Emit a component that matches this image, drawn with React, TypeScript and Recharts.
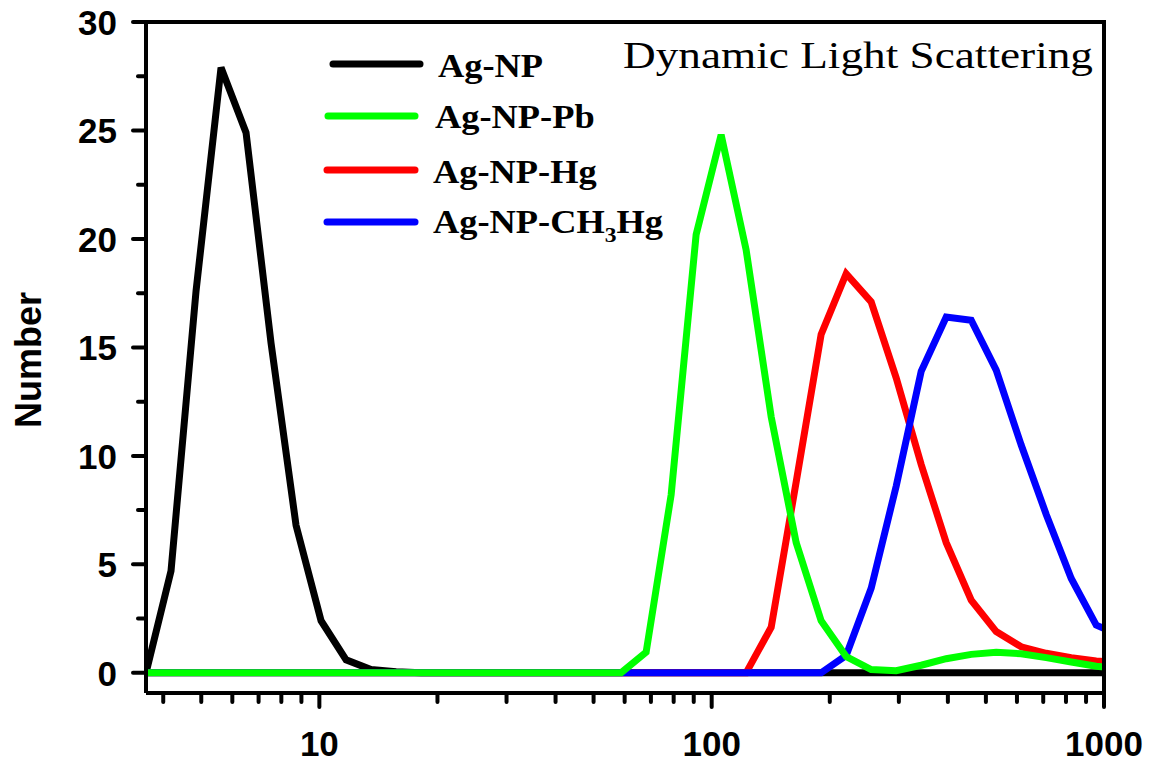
import React from 'react';
import { LineChart, Line, XAxis, YAxis } from 'recharts';

// size bins (nm) of the DLS instrument
const sizes = [
  3.615, 4.187, 4.849, 5.615, 6.503, 7.531, 8.721, 10.1, 11.7, 13.54,
  15.69, 18.17, 21.04, 24.36, 28.21, 32.67, 37.84, 43.82, 50.75, 58.77,
  68.06, 78.82, 91.28, 105.7, 122.4, 141.8, 164.2, 190.1, 220.2, 255.0,
  295.3, 342.0, 396.1, 458.7, 531.2, 615.1, 712.4, 825.0, 955.4, 1106,
];

// number distribution (%) per bin
const agNp = [
  0, 4.7, 17.6, 27.9, 24.9, 15.2, 6.8, 2.4, 0.6, 0.15,
  0.05, 0, 0, 0, 0, 0, 0, 0, 0, 0,
  0, 0, 0, 0, 0, 0, 0, 0, 0, 0,
  0, 0, 0, 0, 0, 0, 0, 0, 0, 0,
];
const agNpPb = [
  0, 0, 0, 0, 0, 0, 0, 0, 0, 0,
  0, 0, 0, 0, 0, 0, 0, 0, 0, 0,
  0.95, 8.2, 20.2, 24.8, 19.5, 11.8, 6.0, 2.4, 0.75, 0.15,
  0.1, 0.35, 0.65, 0.85, 0.95, 0.88, 0.7, 0.5, 0.3, 0.2,
];
const agNpHg = [
  0, 0, 0, 0, 0, 0, 0, 0, 0, 0,
  0, 0, 0, 0, 0, 0, 0, 0, 0, 0,
  0, 0, 0, 0, 0, 2.1, 8.8, 15.6, 18.4, 17.1,
  13.6, 9.6, 6.0, 3.35, 1.9, 1.2, 0.9, 0.7, 0.55, 0.45,
];
const agNpCh3Hg = [
  0, 0, 0, 0, 0, 0, 0, 0, 0, 0,
  0, 0, 0, 0, 0, 0, 0, 0, 0, 0,
  0, 0, 0, 0, 0, 0, 0, 0, 0.8, 3.9,
  8.6, 13.9, 16.4, 16.25, 13.95, 10.5, 7.3, 4.35, 2.2, 1.7,
];

const xTicks = [4, 5, 6, 7, 8, 9, 10, 20, 30, 40, 50, 60, 70, 80, 90, 100, 200, 300, 400, 500, 600, 700, 800, 900, 1000];
const xLabels = [10, 100, 1000];
const yTicks = [0, 2.5, 5, 7.5, 10, 12.5, 15, 17.5, 20, 22.5, 25, 27.5, 30];

const data = sizes.map((size, i) => ({
  size,
  agNp: agNp[i],
  agNpPb: agNpPb[i],
  agNpHg: agNpHg[i],
  agNpCh3Hg: agNpCh3Hg[i],
}));

// plot box in page pixels
const PLOT = { left: 146, right: 1104, top: 22, bottom: 693 };

const tickFont = { fontFamily: 'Liberation Sans, Arial, sans-serif', fontWeight: 700, fontSize: 35 };

const XTick = (props: any) => {
  const { x, y, payload } = props;
  const major = xLabels.includes(payload.value);
  return (
    <g>
      <line x1={x} x2={x} y1={y} y2={y + (major ? 14 : 9)} stroke="#000" strokeWidth={4} strokeLinecap="round" />
      {major && (
        <text x={x} y={y + 63} textAnchor="middle" fill="#000" style={tickFont}>
          {payload.value}
        </text>
      )}
    </g>
  );
};

const YTick = (props: any) => {
  const { x, y, payload } = props;
  const major = payload.value % 5 === 0;
  return (
    <g>
      <line x1={x - (major ? 13 : 8)} x2={x} y1={y} y2={y} stroke="#000" strokeWidth={4} strokeLinecap="round" />
      {major && (
        <text x={x - 29} y={y + 13} textAnchor="end" fill="#000" style={tickFont}>
          {payload.value}
        </text>
      )}
    </g>
  );
};

const legendItems = [
  { label: 'Ag-NP', color: '#000000', x1: 333, x2: 420, ly: 64, tx: 438, ty: 77 },
  { label: 'Ag-NP-Pb', color: '#00ff00', x1: 328, x2: 415, ly: 116, tx: 435, ty: 128 },
  { label: 'Ag-NP-Hg', color: '#ff0000', x1: 327, x2: 415, ly: 170, tx: 433, ty: 183 },
  { label: 'Ag-NP-CH3Hg', color: '#0000ff', x1: 327, x2: 415, ly: 222, tx: 433, ty: 233 },
];

const serif = 'Liberation Serif, Times New Roman, serif';

// top and right edges of the plot box
const Frame = () => (
  <div
    style={{
      position: 'absolute',
      left: PLOT.left - 2,
      top: PLOT.top - 2,
      width: PLOT.right - PLOT.left,
      height: PLOT.bottom - PLOT.top,
      borderTop: '4px solid #000',
      borderRight: '4px solid #000',
      zIndex: 3,
      pointerEvents: 'none',
    }}
  />
);

const Overlay = () => (
  <svg
    width={1163}
    height={765}
    viewBox="0 0 1163 765"
    style={{ position: 'absolute', left: 0, top: 0, zIndex: 2, pointerEvents: 'none' }}
  >
    <text x={623} y={68} fontFamily={serif} fontSize={38} textLength={470} lengthAdjust="spacingAndGlyphs" fill="#000">
      Dynamic Light Scattering
    </text>
    {legendItems.map((item) => (
      <g key={item.label}>
        <line x1={item.x1} x2={item.x2} y1={item.ly} y2={item.ly} stroke={item.color} strokeWidth={7} strokeLinecap="round" />
        <g transform={`translate(${item.tx},${item.ty}) scale(1.07,1)`}>
          <text x={0} y={0} fontFamily={serif} fontWeight={700} fontSize={34} fill="#000">
            {item.label === 'Ag-NP-CH3Hg' ? (
              <>
                Ag-NP-CH
                <tspan fontSize={22} dy={9}>3</tspan>
                <tspan dy={-9}>Hg</tspan>
              </>
            ) : (
              item.label
            )}
          </text>
        </g>
      </g>
    ))}
    <text
      transform="translate(41,360) rotate(-90)"
      textAnchor="middle"
      fontFamily="Liberation Sans, Arial, sans-serif"
      fontWeight={700}
      fontSize={36}
      fill="#000"
    >
      Number
    </text>
  </svg>
);

export default function App() {
  return (
    <div style={{ position: 'absolute', left: 0, top: 0, width: 1163, height: 765, background: '#fff' }}>
      <LineChart
        width={1163}
        height={765}
        data={data}
        margin={{ top: PLOT.top, right: 1163 - PLOT.right, bottom: 0, left: 0 }}
      >
        <XAxis
          dataKey="size"
          type="number"
          scale="log"
          domain={[3.615, 1000]}
          allowDataOverflow
          ticks={xTicks}
          interval={0}
          tick={<XTick />}
          tickLine={false}
          tickSize={0}
          tickMargin={0}
          height={765 - PLOT.bottom}
          axisLine={{ stroke: '#000', strokeWidth: 4 }}
        />
        <YAxis
          type="number"
          domain={[-0.93, 30]}
          allowDataOverflow
          ticks={yTicks}
          interval={0}
          tick={<YTick />}
          tickLine={false}
          tickSize={0}
          tickMargin={0}
          width={PLOT.left}
          axisLine={{ stroke: '#000', strokeWidth: 4 }}
        />
        <Line type="linear" dataKey="agNp" stroke="#000000" strokeWidth={7} dot={false} isAnimationActive={false} />
        <Line type="linear" dataKey="agNpHg" stroke="#ff0000" strokeWidth={7} dot={false} isAnimationActive={false} />
        <Line type="linear" dataKey="agNpCh3Hg" stroke="#0000ff" strokeWidth={7} dot={false} isAnimationActive={false} />
        <Line type="linear" dataKey="agNpPb" stroke="#00ff00" strokeWidth={7} dot={false} isAnimationActive={false} />
      </LineChart>
      <Overlay />
      <Frame />
    </div>
  );
}
